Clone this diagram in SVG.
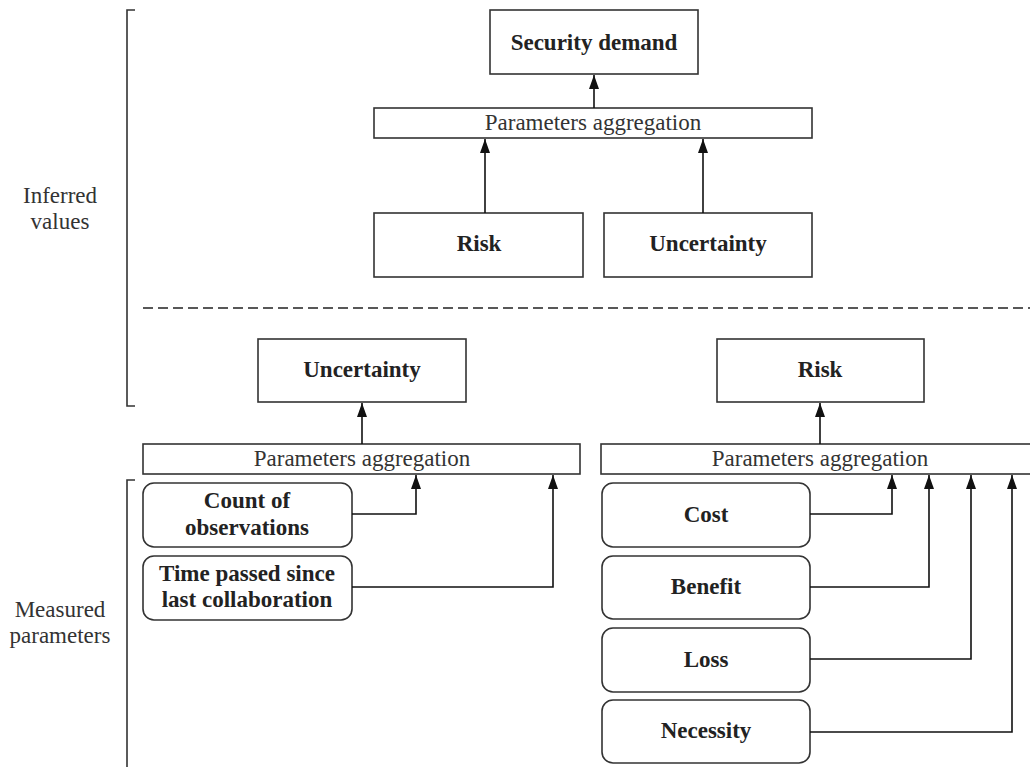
<svg xmlns="http://www.w3.org/2000/svg" width="1030" height="767" viewBox="0 0 1030 767">
<defs>
<marker id="arr" viewBox="0 0 14 10" refX="14" refY="5" markerWidth="14" markerHeight="10" markerUnits="userSpaceOnUse" orient="auto">
<path d="M0,0 L14,5 L0,10 Z" fill="#111"/>
</marker>
<style>
.box{fill:#fff;stroke:#333;stroke-width:1.6}
.b{font-family:"Liberation Serif","Times New Roman",serif;font-size:23px;font-weight:bold;fill:#222;text-anchor:middle}
.r{font-family:"Liberation Serif","Times New Roman",serif;font-size:23px;fill:#333;text-anchor:middle}
.c{fill:none;stroke:#111;stroke-width:1.6}
.br{fill:none;stroke:#333;stroke-width:1.6}
</style>
</defs>
<rect width="1030" height="767" fill="#fff"/>

<g id="brackets">
<path class="br" d="M135,10 H127 V406 H135"/>
<path class="br" d="M135,480 H127 V767"/>
<line x1="143" y1="308" x2="1030" y2="308" stroke="#222" stroke-width="1.6" stroke-dasharray="10,5"/>
</g>

<g id="labels">
<text class="r" x="60" y="203">Inferred</text>
<text class="r" x="60" y="229">values</text>
<text class="r" x="60" y="617">Measured</text>
<text class="r" x="60" y="643">parameters</text>
</g>

<g id="security-demand"><rect class="box" x="490" y="10" width="208" height="64"/><text class="b" x="594" y="50">Security demand</text></g>
<g id="agg-top"><rect class="box" x="374" y="108" width="438" height="30"/><text class="r" x="593" y="130">Parameters aggregation</text></g>
<g id="risk-top"><rect class="box" x="374" y="213" width="209" height="64"/><text class="b" x="479" y="251">Risk</text></g>
<g id="uncertainty-top"><rect class="box" x="604" y="213" width="208" height="64"/><text class="b" x="708" y="251">Uncertainty</text></g>

<g id="uncertainty-low"><rect class="box" x="258" y="339" width="208" height="63"/><text class="b" x="362" y="377">Uncertainty</text></g>
<g id="risk-low"><rect class="box" x="717" y="339" width="207" height="63"/><text class="b" x="820" y="377">Risk</text></g>
<g id="agg-left"><rect class="box" x="143" y="444" width="437" height="30"/><text class="r" x="362" y="466">Parameters aggregation</text></g>
<g id="agg-right"><rect class="box" x="601" y="444" width="440" height="30"/><text class="r" x="820" y="466">Parameters aggregation</text></g>

<g id="count"><rect class="box" x="143" y="483" width="209" height="64" rx="11"/><text class="b" x="247" y="508">Count of</text><text class="b" x="247" y="535">observations</text></g>
<g id="time"><rect class="box" x="143" y="556" width="209" height="64" rx="11"/><text class="b" x="247" y="581">Time passed since</text><text class="b" x="247" y="607">last collaboration</text></g>

<g id="cost"><rect class="box" x="602" y="483" width="208" height="64" rx="11"/><text class="b" x="706" y="522">Cost</text></g>
<g id="benefit"><rect class="box" x="602" y="556" width="208" height="63" rx="11"/><text class="b" x="706" y="594">Benefit</text></g>
<g id="loss"><rect class="box" x="602" y="628" width="208" height="64" rx="11"/><text class="b" x="706" y="667">Loss</text></g>
<g id="necessity"><rect class="box" x="602" y="700" width="208" height="63" rx="11"/><text class="b" x="706" y="738">Necessity</text></g>

<g id="connectors">
<path class="c" d="M594,108 V75" marker-end="url(#arr)"/>
<path class="c" d="M485,213 V139" marker-end="url(#arr)"/>
<path class="c" d="M703,213 V139" marker-end="url(#arr)"/>
<path class="c" d="M362,444 V403" marker-end="url(#arr)"/>
<path class="c" d="M820,444 V403" marker-end="url(#arr)"/>
<path class="c" d="M352,514 H416 V475" marker-end="url(#arr)"/>
<path class="c" d="M352,587 H553 V475" marker-end="url(#arr)"/>
<path class="c" d="M810,514 H892 V475" marker-end="url(#arr)"/>
<path class="c" d="M810,587 H929 V475" marker-end="url(#arr)"/>
<path class="c" d="M810,659 H971 V475" marker-end="url(#arr)"/>
<path class="c" d="M810,732 H1012 V475" marker-end="url(#arr)"/>
</g>
</svg>
